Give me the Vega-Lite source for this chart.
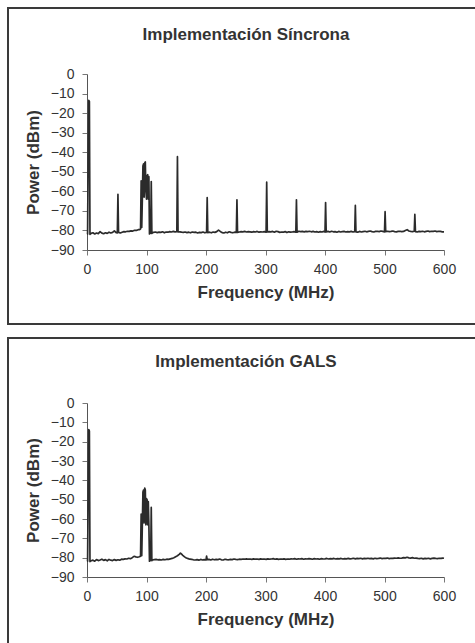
{
  "$schema": "https://vega.github.io/schema/vega-lite/v6.json",
  "padding": {"left": 7, "top": 7, "right": 0, "bottom": 0},
  "background": "white",
  "datasets": {
    "sync": [
      {"f":0,"p":-82},{"f":1,"p":-81.8},{"f":2,"p":-40},{"f":3,"p":-13.5},{"f":4,"p":-14},{"f":5,"p":-82},
      {"f":7,"p":-81.5},{"f":10,"p":-81.2},{"f":13,"p":-81.8},{"f":16,"p":-81.3},{"f":19,"p":-81.6},{"f":22,"p":-80.6},
      {"f":25,"p":-81.4},{"f":28,"p":-81.7},{"f":31,"p":-81.2},{"f":34,"p":-81.5},{"f":37,"p":-80.9},{"f":40,"p":-81.3},
      {"f":43,"p":-81.0},{"f":46,"p":-80.2},{"f":49,"p":-81.1},{"f":51,"p":-81.2},{"f":52,"p":-61.5},{"f":53,"p":-81.0},
      {"f":56,"p":-81.3},{"f":59,"p":-80.9},{"f":62,"p":-80.6},{"f":65,"p":-80.7},{"f":68,"p":-80.4},{"f":71,"p":-80.5},
      {"f":74,"p":-80.2},{"f":77,"p":-80.3},{"f":80,"p":-79.9},{"f":83,"p":-80.0},{"f":86,"p":-79.6},{"f":88,"p":-79.6},
      {"f":89,"p":-79.5},{"f":90,"p":-79.2},{"f":91,"p":-54.7},{"f":92,"p":-78.5},{"f":93,"p":-64},{"f":94,"p":-47},
      {"f":95,"p":-46},{"f":96,"p":-63},{"f":97,"p":-45.5},{"f":98,"p":-45},{"f":99,"p":-60},{"f":100,"p":-64},
      {"f":101,"p":-52},{"f":102,"p":-51.5},{"f":103,"p":-64},{"f":104,"p":-52.5},{"f":105,"p":-81.8},{"f":106,"p":-81.5},
      {"f":107,"p":-81.3},{"f":108,"p":-55},{"f":109,"p":-81.5},{"f":110,"p":-81.2},
      {"f":112,"p":-81.0},{"f":115,"p":-80.8},{"f":118,"p":-81.1},{"f":121,"p":-80.9},{"f":124,"p":-81.0},{"f":127,"p":-80.7},
      {"f":130,"p":-81.2},{"f":133,"p":-80.8},{"f":136,"p":-80.9},{"f":139,"p":-80.6},{"f":142,"p":-80.8},{"f":145,"p":-80.5},
      {"f":148,"p":-80.7},{"f":151,"p":-80.6},{"f":152,"p":-42.3},{"f":153,"p":-80.8},{"f":156,"p":-80.7},{"f":159,"p":-80.9},
      {"f":162,"p":-81.0},{"f":165,"p":-80.8},{"f":168,"p":-81.1},{"f":171,"p":-80.9},{"f":174,"p":-81.2},{"f":177,"p":-80.8},
      {"f":180,"p":-81.0},{"f":183,"p":-80.9},{"f":186,"p":-81.3},{"f":189,"p":-81.0},{"f":192,"p":-81.1},{"f":195,"p":-80.8},
      {"f":198,"p":-81.2},{"f":201,"p":-81.0},{"f":202,"p":-63.2},{"f":203,"p":-81.1},{"f":206,"p":-80.9},{"f":209,"p":-81.2},
      {"f":212,"p":-80.8},{"f":215,"p":-81.0},{"f":218,"p":-80.6},{"f":221,"p":-79.8},{"f":224,"p":-80.5},{"f":227,"p":-81.1},
      {"f":230,"p":-81.3},{"f":233,"p":-80.9},{"f":236,"p":-81.2},{"f":239,"p":-80.7},{"f":242,"p":-81.0},{"f":245,"p":-81.2},
      {"f":248,"p":-80.9},{"f":251,"p":-81.0},{"f":252,"p":-64.3},{"f":253,"p":-81.0},{"f":256,"p":-80.8},{"f":259,"p":-80.6},
      {"f":262,"p":-80.7},{"f":265,"p":-80.5},{"f":268,"p":-80.8},{"f":271,"p":-80.6},{"f":274,"p":-80.7},{"f":277,"p":-80.9},
      {"f":280,"p":-80.6},{"f":283,"p":-80.8},{"f":286,"p":-80.5},{"f":289,"p":-80.9},{"f":292,"p":-80.7},{"f":295,"p":-80.8},
      {"f":298,"p":-80.6},{"f":301,"p":-80.9},{"f":302,"p":-55.3},{"f":303,"p":-80.8},{"f":306,"p":-80.6},{"f":309,"p":-80.7},
      {"f":312,"p":-80.5},{"f":315,"p":-80.9},{"f":318,"p":-80.4},{"f":321,"p":-80.6},{"f":324,"p":-81.0},{"f":327,"p":-80.8},
      {"f":330,"p":-80.9},{"f":333,"p":-80.6},{"f":336,"p":-81.1},{"f":339,"p":-80.7},{"f":342,"p":-80.9},{"f":345,"p":-80.8},
      {"f":348,"p":-80.6},{"f":351,"p":-80.9},{"f":352,"p":-64.3},{"f":353,"p":-80.9},{"f":356,"p":-80.4},{"f":359,"p":-80.6},
      {"f":362,"p":-80.5},{"f":365,"p":-80.7},{"f":368,"p":-80.5},{"f":371,"p":-80.6},{"f":374,"p":-80.4},{"f":377,"p":-80.7},
      {"f":380,"p":-80.5},{"f":383,"p":-80.8},{"f":386,"p":-80.6},{"f":389,"p":-80.9},{"f":392,"p":-80.6},{"f":395,"p":-80.8},
      {"f":398,"p":-80.5},{"f":400,"p":-80.8},{"f":401,"p":-65.7},{"f":402,"p":-80.7},{"f":405,"p":-80.5},{"f":408,"p":-80.8},
      {"f":411,"p":-80.4},{"f":414,"p":-80.7},{"f":417,"p":-80.6},{"f":420,"p":-80.9},{"f":423,"p":-80.5},{"f":426,"p":-80.8},
      {"f":429,"p":-80.6},{"f":432,"p":-80.5},{"f":435,"p":-80.8},{"f":438,"p":-80.6},{"f":441,"p":-80.7},{"f":444,"p":-80.5},
      {"f":447,"p":-80.8},{"f":450,"p":-80.6},{"f":451,"p":-67.2},{"f":452,"p":-80.7},{"f":455,"p":-80.9},{"f":458,"p":-80.5},
      {"f":461,"p":-80.8},{"f":464,"p":-80.6},{"f":467,"p":-80.4},{"f":470,"p":-80.7},{"f":473,"p":-80.5},{"f":476,"p":-80.3},
      {"f":479,"p":-80.6},{"f":482,"p":-80.8},{"f":485,"p":-80.5},{"f":488,"p":-80.4},{"f":491,"p":-80.6},{"f":494,"p":-80.3},
      {"f":497,"p":-80.5},{"f":500,"p":-80.7},{"f":501,"p":-70.4},{"f":502,"p":-80.6},{"f":505,"p":-80.4},{"f":508,"p":-80.6},
      {"f":511,"p":-80.5},{"f":514,"p":-80.3},{"f":517,"p":-80.6},{"f":520,"p":-80.7},{"f":523,"p":-80.5},{"f":526,"p":-80.4},
      {"f":529,"p":-80.6},{"f":532,"p":-80.5},{"f":535,"p":-80.0},{"f":538,"p":-79.6},{"f":541,"p":-80.3},{"f":544,"p":-80.5},
      {"f":547,"p":-80.6},{"f":550,"p":-80.4},{"f":551,"p":-71.8},{"f":552,"p":-80.6},{"f":555,"p":-80.8},{"f":558,"p":-80.5},
      {"f":561,"p":-80.6},{"f":564,"p":-80.4},{"f":567,"p":-80.7},{"f":570,"p":-80.5},{"f":573,"p":-80.3},{"f":576,"p":-80.6},
      {"f":579,"p":-80.4},{"f":582,"p":-80.5},{"f":585,"p":-80.3},{"f":588,"p":-80.6},{"f":591,"p":-80.4},{"f":594,"p":-80.5},
      {"f":597,"p":-80.7},{"f":600,"p":-80.7}
    ],
    "gals": [
      {"f":0,"p":-82},{"f":1,"p":-81.8},{"f":2,"p":-45},{"f":3,"p":-13.8},{"f":4,"p":-14.5},{"f":5,"p":-82},
      {"f":7,"p":-81.6},{"f":10,"p":-81.3},{"f":13,"p":-81.8},{"f":16,"p":-81.0},{"f":19,"p":-81.5},{"f":22,"p":-81.2},
      {"f":25,"p":-80.8},{"f":28,"p":-81.4},{"f":31,"p":-81.0},{"f":34,"p":-81.6},{"f":37,"p":-80.9},{"f":40,"p":-81.3},
      {"f":43,"p":-81.5},{"f":46,"p":-81.0},{"f":49,"p":-81.4},{"f":52,"p":-81.1},{"f":55,"p":-81.3},{"f":58,"p":-80.8},
      {"f":61,"p":-80.9},{"f":64,"p":-80.6},{"f":67,"p":-80.7},{"f":70,"p":-80.3},{"f":73,"p":-80.5},{"f":76,"p":-80.0},
      {"f":79,"p":-79.3},{"f":82,"p":-79.6},{"f":85,"p":-79.8},{"f":88,"p":-79.5},{"f":90,"p":-79.2},
      {"f":91,"p":-57.5},{"f":92,"p":-79},{"f":93,"p":-63},{"f":94,"p":-46},{"f":95,"p":-45},{"f":96,"p":-62},
      {"f":97,"p":-44},{"f":98,"p":-45},{"f":99,"p":-63},{"f":100,"p":-49.5},{"f":101,"p":-50},{"f":102,"p":-63},
      {"f":103,"p":-51},{"f":104,"p":-63},{"f":105,"p":-81.8},{"f":106,"p":-81.5},{"f":107,"p":-81.4},{"f":108,"p":-54},
      {"f":109,"p":-81.5},{"f":110,"p":-81.2},
      {"f":113,"p":-81.0},{"f":116,"p":-80.9},{"f":119,"p":-81.1},{"f":122,"p":-81.0},{"f":125,"p":-81.2},{"f":128,"p":-80.9},
      {"f":131,"p":-81.1},{"f":134,"p":-80.8},{"f":137,"p":-80.9},{"f":140,"p":-80.6},{"f":143,"p":-80.4},{"f":146,"p":-80.0},
      {"f":149,"p":-79.5},{"f":152,"p":-79.0},{"f":155,"p":-78.3},{"f":157,"p":-77.6},{"f":159,"p":-78.2},{"f":161,"p":-78.8},
      {"f":164,"p":-79.6},{"f":167,"p":-80.2},{"f":170,"p":-80.5},{"f":173,"p":-80.8},{"f":176,"p":-80.9},{"f":179,"p":-81.1},
      {"f":182,"p":-81.2},{"f":185,"p":-81.0},{"f":188,"p":-81.3},{"f":191,"p":-80.9},{"f":194,"p":-81.2},{"f":197,"p":-81.0},
      {"f":200,"p":-81.2},{"f":201,"p":-79.2},{"f":202,"p":-81.0},{"f":205,"p":-80.9},{"f":208,"p":-81.2},{"f":211,"p":-80.8},
      {"f":214,"p":-81.1},{"f":217,"p":-80.9},{"f":220,"p":-81.0},{"f":223,"p":-80.7},{"f":226,"p":-81.1},{"f":229,"p":-81.2},
      {"f":232,"p":-80.8},{"f":235,"p":-81.0},{"f":238,"p":-81.1},{"f":241,"p":-80.9},{"f":244,"p":-81.0},{"f":247,"p":-80.7},
      {"f":250,"p":-80.9},{"f":253,"p":-81.0},{"f":256,"p":-80.8},{"f":259,"p":-80.9},{"f":262,"p":-80.7},{"f":265,"p":-80.8},
      {"f":268,"p":-80.6},{"f":271,"p":-80.8},{"f":274,"p":-80.7},{"f":277,"p":-80.9},{"f":280,"p":-80.6},{"f":283,"p":-80.8},
      {"f":286,"p":-80.7},{"f":289,"p":-80.9},{"f":292,"p":-80.6},{"f":295,"p":-80.8},{"f":298,"p":-80.7},{"f":301,"p":-80.9},
      {"f":304,"p":-80.6},{"f":307,"p":-80.8},{"f":310,"p":-80.7},{"f":313,"p":-80.5},{"f":316,"p":-80.8},{"f":319,"p":-80.6},
      {"f":322,"p":-80.9},{"f":325,"p":-80.7},{"f":328,"p":-80.8},{"f":331,"p":-80.6},{"f":334,"p":-80.9},{"f":337,"p":-80.7},
      {"f":340,"p":-80.8},{"f":343,"p":-80.6},{"f":346,"p":-80.7},{"f":349,"p":-80.5},{"f":352,"p":-80.8},{"f":355,"p":-80.6},
      {"f":358,"p":-80.7},{"f":361,"p":-80.5},{"f":364,"p":-80.8},{"f":367,"p":-80.6},{"f":370,"p":-80.7},{"f":373,"p":-80.5},
      {"f":376,"p":-80.6},{"f":379,"p":-80.8},{"f":382,"p":-80.5},{"f":385,"p":-80.7},{"f":388,"p":-80.6},{"f":391,"p":-80.8},
      {"f":394,"p":-80.5},{"f":397,"p":-80.7},{"f":400,"p":-80.6},{"f":403,"p":-80.4},{"f":406,"p":-80.7},{"f":409,"p":-80.5},
      {"f":412,"p":-80.6},{"f":415,"p":-80.4},{"f":418,"p":-80.7},{"f":421,"p":-80.5},{"f":424,"p":-80.6},{"f":427,"p":-80.4},
      {"f":430,"p":-80.7},{"f":433,"p":-80.5},{"f":436,"p":-80.6},{"f":439,"p":-80.4},{"f":442,"p":-80.6},{"f":445,"p":-80.5},
      {"f":448,"p":-80.3},{"f":451,"p":-80.6},{"f":454,"p":-80.4},{"f":457,"p":-80.5},{"f":460,"p":-80.3},{"f":463,"p":-80.6},
      {"f":466,"p":-80.4},{"f":469,"p":-80.5},{"f":472,"p":-80.3},{"f":475,"p":-80.5},{"f":478,"p":-80.4},{"f":481,"p":-80.6},
      {"f":484,"p":-80.3},{"f":487,"p":-80.5},{"f":490,"p":-80.4},{"f":493,"p":-80.2},{"f":496,"p":-80.5},{"f":499,"p":-80.3},
      {"f":502,"p":-80.4},{"f":505,"p":-80.2},{"f":508,"p":-80.5},{"f":511,"p":-80.3},{"f":514,"p":-80.4},{"f":517,"p":-80.2},
      {"f":520,"p":-80.3},{"f":523,"p":-80.1},{"f":526,"p":-80.3},{"f":529,"p":-80.2},{"f":532,"p":-80.0},{"f":535,"p":-80.1},
      {"f":538,"p":-79.8},{"f":541,"p":-80.1},{"f":544,"p":-80.2},{"f":547,"p":-80.0},{"f":550,"p":-80.3},{"f":553,"p":-80.2},
      {"f":556,"p":-80.4},{"f":559,"p":-80.5},{"f":562,"p":-80.3},{"f":565,"p":-80.6},{"f":568,"p":-80.4},{"f":571,"p":-80.5},
      {"f":574,"p":-80.3},{"f":577,"p":-80.6},{"f":580,"p":-80.4},{"f":583,"p":-80.2},{"f":586,"p":-80.4},{"f":589,"p":-80.5},
      {"f":592,"p":-80.3},{"f":595,"p":-80.4},{"f":598,"p":-80.2},{"f":600,"p":-80.3}
    ]
  },
  "config": {
    "font": "Liberation Sans",
    "view": {"stroke": "#3a3a3a", "strokeWidth": 2},
    "axis": {
      "grid": false,
      "domainColor": "#555",
      "tickColor": "#777",
      "labelColor": "#333",
      "titleColor": "#333",
      "labelFont": "Liberation Sans",
      "titleFont": "Liberation Sans",
      "labelFontSize": 14,
      "titleFontSize": 17,
      "titleFontWeight": "bold",
      "tickSize": 5,
      "labelFlush": false
    },
    "title": {"font": "Liberation Sans", "fontSize": 17, "fontWeight": "bold", "color": "#333", "baseline": "alphabetic", "anchor": "middle"},
    "concat": {"spacing": 12}
  },
  "vconcat": [
    {
      "width": 476,
      "height": 316,
      "title": {"text": "Implementación Síncrona", "offset": -36},
      "data": {"name": "sync"},
      "mark": {"type": "line", "color": "#2b2b2b", "strokeWidth": 1.7, "strokeJoin": "round"},
      "encoding": {
        "x": {"field": "f", "type": "quantitative", "scale": {"domain": [0, 600], "range": [79, 436]},
              "axis": {"offset": -74, "values": [0, 100, 200, 300, 400, 500, 600], "labelPadding": 7, "titlePadding": 8, "title": "Frequency (MHz)"}},
        "y": {"field": "p", "type": "quantitative", "scale": {"domain": [-90, 0], "range": [242, 66]},
              "axis": {"offset": -79, "values": [-90, -80, -70, -60, -50, -40, -30, -20, -10, 0], "labelPadding": 8, "titlePadding": 8, "title": "Power (dBm)"}}
      }
    },
    {
      "width": 476,
      "height": 312,
      "title": {"text": "Implementación GALS", "offset": -33},
      "data": {"name": "gals"},
      "mark": {"type": "line", "color": "#2b2b2b", "strokeWidth": 1.7, "strokeJoin": "round"},
      "encoding": {
        "x": {"field": "f", "type": "quantitative", "scale": {"domain": [0, 600], "range": [79, 436]},
              "axis": {"offset": -73, "values": [0, 100, 200, 300, 400, 500, 600], "labelPadding": 7, "titlePadding": 8, "title": "Frequency (MHz)"}},
        "y": {"field": "p", "type": "quantitative", "scale": {"domain": [-90, 0], "range": [239, 65]},
              "axis": {"offset": -79, "values": [-90, -80, -70, -60, -50, -40, -30, -20, -10, 0], "labelPadding": 8, "titlePadding": 8, "title": "Power (dBm)"}}
      }
    }
  ]
}
